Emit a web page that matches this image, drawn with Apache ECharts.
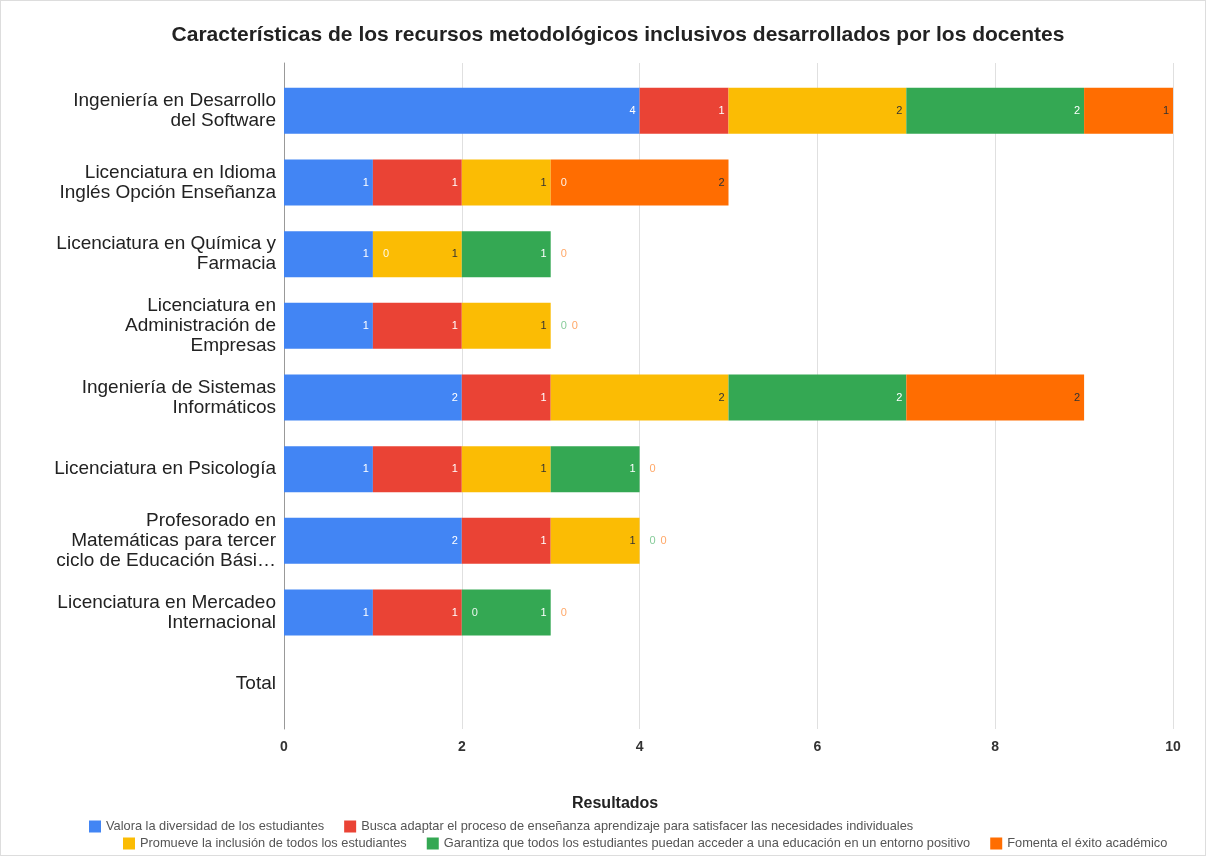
<!DOCTYPE html>
<html><head><meta charset="utf-8">
<script src="https://cdn.jsdelivr.net/npm/echarts@6/dist/echarts.min.js"></script>
<style>html,body{margin:0;padding:0;background:#fff}#c{width:1204px;height:854px;border:1px solid #ddd}</style>
</head><body><div id="c"></div>
<script>
const categories = [
  'Ingeniería en Desarrollo\ndel Software',
  'Licenciatura en Idioma\nInglés Opción Enseñanza',
  'Licenciatura en Química y\nFarmacia',
  'Licenciatura en\nAdministración de\nEmpresas',
  'Ingeniería de Sistemas\nInformáticos',
  'Licenciatura en Psicología',
  'Profesorado en\nMatemáticas para tercer\nciclo de Educación Bási…',
  'Licenciatura en Mercadeo\nInternacional',
  'Total'
];
const seriesNames = [
  'Valora la diversidad de los estudiantes',
  'Busca adaptar el proceso de enseñanza aprendizaje para satisfacer las necesidades individuales',
  'Promueve la inclusión de todos los estudiantes',
  'Garantiza que todos los estudiantes puedan acceder a una educación en un entorno positivo',
  'Fomenta el éxito académico'
];
const valora    = [4, 1, 1, 1, 2, 1, 2, 1, null];
const busca     = [1, 1, 0, 1, 1, 1, 1, 1, null];
const promueve  = [2, 1, 1, 1, 2, 1, 1, 0, null];
const garantiza = [2, 0, 1, 0, 2, 1, 0, 1, null];
const fomenta   = [1, 2, 0, 0, 2, 0, 0, 0, null];
const xTicks = [0, 2, 4, 6, 8, 10];
const axisTitle = 'Resultados';

const FONT = '"Liberation Sans", Arial, sans-serif';
const colors = ['#4285F4', '#EA4335', '#FBBC04', '#34A853', '#FF6D01'];
const labelColors = ['#fff', '#fff', '#333', '#fff', '#333'];
const all = [valora, busca, promueve, garantiza, fomenta];

function buildData(si) {
  return all[si].map((v, ci) => {
    if (v === null) return null;
    if (v !== 0) return v;
    let laterNonZero = false;
    for (let k = si + 1; k < all.length; k++) if (all[k][ci]) laterNonZero = true;
    let prevZeros = 0;
    if (!laterNonZero) {
      for (let k = si - 1; k >= 0; k--) { if (all[k][ci] === 0) prevZeros++; else break; }
    }
    return {
      value: 0,
      label: {
        show: true, position: 'right', distance: 10 + prevZeros * 11,
        color: laterNonZero ? '#fff' : colors[si], opacity: laterNonZero ? 0.9 : 0.6
      }
    };
  });
}

const series = seriesNames.map((n, i) => ({
  name: n, type: 'bar', stack: 'total', barWidth: 46, xAxisIndex: 0, yAxisIndex: 0,
  itemStyle: { color: colors[i] },
  label: { show: true, position: 'insideRight', distance: 4, color: labelColors[i], fontSize: 11, fontFamily: FONT },
  data: buildData(i)
}));

const legendText = { fontSize: 12.8, color: '#555', fontFamily: FONT };
const chart = echarts.init(document.getElementById('c'));
chart.setOption({
  animation: false,
  title: { text: 'Características de los recursos metodológicos inclusivos desarrollados por los docentes',
    left: 612, textAlign: 'center', top: 19,
    textStyle: { fontFamily: FONT, fontSize: 21, fontWeight: 'bold', color: '#222' } },
  graphic: [{ type: 'text', left: 571, top: 795, style: { text: axisTitle,
      font: 'bold 16px ' + FONT, fill: '#222' } }],
  grid: [
    { left: 283, right: 32, top: 74, bottom: 135, containLabel: false },
    { left: 283, right: 32, top: 62, bottom: 126, containLabel: false }
  ],
  legend: [
    { data: seriesNames.slice(0, 2), top: 814, left: 83, itemWidth: 12, itemHeight: 12, icon: 'rect', itemGap: 20, textStyle: legendText },
    { data: seriesNames.slice(2), top: 831, left: 117, itemWidth: 12, itemHeight: 12, icon: 'rect', itemGap: 20, textStyle: legendText }
  ],
  xAxis: [
    { gridIndex: 0, type: 'value', min: 0, max: 10, interval: 2, show: false },
    { gridIndex: 1, type: 'value', min: 0, max: 10, interval: 2,
      axisLabel: { fontFamily: FONT, fontSize: 14, fontWeight: 'bold', color: '#333', margin: 11,
        formatter: v => xTicks.includes(v) ? String(v) : '' },
      splitLine: { lineStyle: { color: '#e0e0e0' } },
      axisLine: { show: false }, axisTick: { show: false } }
  ],
  yAxis: [
    { gridIndex: 0, type: 'category', inverse: true, data: categories,
      axisLine: { show: false }, axisTick: { show: false },
      axisLabel: { fontFamily: FONT, fontSize: 19, color: '#222', lineHeight: 20, margin: 8, align: 'right' } },
    { gridIndex: 1, type: 'value', min: 0, max: 1,
      axisLine: { show: true, lineStyle: { color: '#999' } }, axisTick: { show: false },
      axisLabel: { show: false }, splitLine: { show: false } }
  ],
  series: series
});
</script></body></html>
